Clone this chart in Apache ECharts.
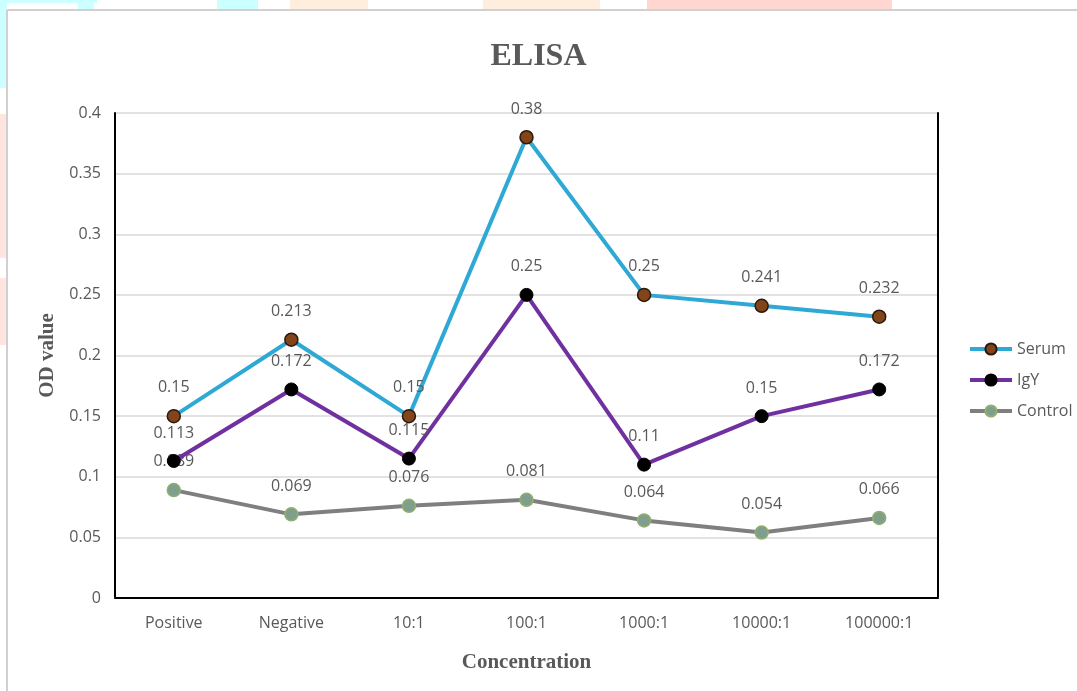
<!DOCTYPE html>
<html>
<head>
<meta charset="utf-8">
<script src="https://cdn.jsdelivr.net/npm/echarts@6/dist/echarts.min.js"></script>
<style>
html,body{margin:0;padding:0;background:#fff;}
#chart{width:1077px;height:691px;}
</style>
</head>
<body>
<div id="chart"></div>
<script>
var categories = ['Positive', 'Negative', '10:1', '100:1', '1000:1', '10000:1', '100000:1'];
var serum = [0.15, 0.213, 0.15, 0.38, 0.25, 0.241, 0.232];
var igy = [0.113, 0.172, 0.115, 0.25, 0.11, 0.15, 0.172];
var control = [0.089, 0.069, 0.076, 0.081, 0.064, 0.054, 0.066];
var yTicks = [0, 0.05, 0.1, 0.15, 0.2, 0.25, 0.3, 0.35, 0.4];

var chart = echarts.init(document.getElementById('chart'), null, {renderer: 'canvas'});
var txt = '#595959';
var font = 'Open Sans';
function lbl() {
  return {show: true, position: 'top', distance: 13, color: txt, fontSize: 16, fontFamily: font};
}
var option = {
  backgroundColor: '#fff',
  animation: false,
  title: {
    text: 'ELISA', left: 'center', top: 36,
    textStyle: {fontFamily: 'Liberation Serif', fontWeight: 'bold', fontSize: 32, color: txt}
  },
  graphic: [
    {type: 'rect', silent: true, z: -1, shape: {x: 0, y: 0, width: 97, height: 3}, style: {fill: '#ccffff'}},
    {type: 'rect', silent: true, z: -1, shape: {x: 78, y: 0, width: 16, height: 9}, style: {fill: '#ccffff'}},
    {type: 'rect', silent: true, z: -1, shape: {x: 217, y: 0, width: 41, height: 9}, style: {fill: '#ccffff'}},
    {type: 'rect', silent: true, z: -1, shape: {x: 290, y: 0, width: 78, height: 9}, style: {fill: '#ffeedd'}},
    {type: 'rect', silent: true, z: -1, shape: {x: 483, y: 0, width: 117, height: 9}, style: {fill: '#ffeedd'}},
    {type: 'rect', silent: true, z: -1, shape: {x: 647, y: 0, width: 245, height: 9}, style: {fill: '#ffd6d0'}},
    {type: 'rect', silent: true, z: -1, shape: {x: 0, y: 3, width: 7, height: 85}, style: {fill: '#ccffff'}},
    {type: 'rect', silent: true, z: -1, shape: {x: 0, y: 114, width: 7, height: 144}, style: {fill: '#ffe4e0'}},
    {type: 'rect', silent: true, z: -1, shape: {x: 0, y: 278, width: 7, height: 67}, style: {fill: '#ffe4e0'}},
    {type: 'line', silent: true, shape: {x1: 7, y1: 10, x2: 1077, y2: 10}, style: {stroke: '#d0d0d0', lineWidth: 2}},
    {type: 'line', silent: true, shape: {x1: 7, y1: 10, x2: 7, y2: 691}, style: {stroke: '#d0d0d0', lineWidth: 2}}
  ],
  legend: {
    orient: 'vertical', left: 963, top: 336, itemWidth: 42, itemHeight: 14, itemGap: 15,
    lineStyle: {width: 4},
    textStyle: {color: txt, fontSize: 16, fontFamily: font},
    data: ['Serum', 'IgY', 'Control']
  },
  grid: {left: 115, right: 139, top: 113, bottom: 93, containLabel: false},
  xAxis: [{
    type: 'category', data: categories, boundaryGap: true,
    name: 'Concentration', nameLocation: 'middle', nameGap: 54,
    nameTextStyle: {fontFamily: 'Liberation Serif', fontWeight: 'bold', fontSize: 21, color: txt},
    axisLine: {lineStyle: {color: '#d0d0d0', width: 2}},
    axisTick: {show: false},
    axisLabel: {color: txt, fontSize: 16, fontFamily: font, margin: 17}
  }, {
    type: 'category', data: categories, position: 'top',
    axisLine: {lineStyle: {color: '#000', width: 2}},
    axisTick: {show: false}, axisLabel: {show: false}
  }],
  yAxis: [{
    type: 'value', min: 0, max: 0.4, interval: 0.05,
    name: 'OD value', nameLocation: 'middle', nameGap: 56,
    nameTextStyle: {fontFamily: 'Liberation Serif', fontWeight: 'bold', fontSize: 21, color: txt},
    axisLine: {show: true, lineStyle: {color: '#000', width: 2}},
    axisTick: {show: false},
    axisLabel: {color: txt, fontSize: 16, fontFamily: font, margin: 14,
      formatter: function (v) { var i = yTicks.indexOf(Math.round(v * 100) / 100); return i >= 0 ? String(yTicks[i]) : ''; }},
    splitLine: {lineStyle: {color: '#d9d9d9', width: 1.5}}
  }, {
    type: 'value', min: 0, max: 0.4, interval: 0.05, position: 'right',
    axisLine: {show: true, lineStyle: {color: '#000', width: 2}},
    axisTick: {show: false}, axisLabel: {show: false}, splitLine: {show: false}
  }],
  series: [{
    name: 'Serum', type: 'line', data: serum, z: 4,
    symbol: 'circle', symbolSize: 13,
    lineStyle: {color: '#2ea8d5', width: 4},
    itemStyle: {color: '#83441a', borderColor: '#2a1a10', borderWidth: 1.5},
    label: lbl()
  }, {
    name: 'IgY', type: 'line', data: igy, z: 3,
    symbol: 'circle', symbolSize: 13,
    lineStyle: {color: '#7030a0', width: 4},
    itemStyle: {color: '#000', borderColor: '#000', borderWidth: 1},
    label: lbl()
  }, {
    name: 'Control', type: 'line', data: control, z: 2,
    symbol: 'circle', symbolSize: 13,
    lineStyle: {color: '#7f7f7f', width: 4},
    itemStyle: {color: '#7f9f8c', borderColor: '#8fb070', borderWidth: 1.5},
    label: lbl()
  }]
};
chart.setOption(option);
</script>
</body>
</html>
